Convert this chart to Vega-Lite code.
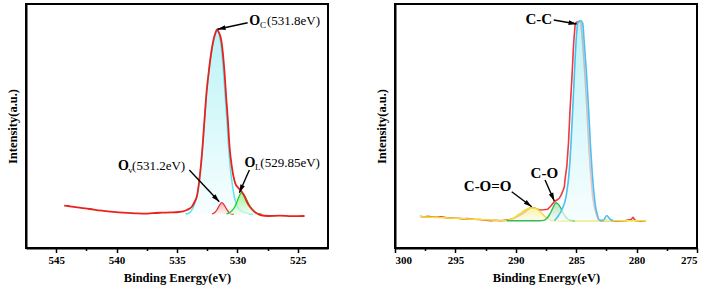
{
"$schema": "https://vega.github.io/schema/vega-lite/v6.json",
"background": "white",
"padding": {"left": 5, "top": 3, "right": 5, "bottom": 3},
"spacing": 67,
"bounds": "flush",
"config": {
  "font": "Liberation Serif",
  "view": {"stroke": "#000", "strokeWidth": 2},
  "axis": {"labelFont": "Liberation Serif", "labelFontWeight": "bold", "labelFontSize": 11, "labelColor": "#000", "titleFont": "Liberation Serif", "titleFontWeight": "bold", "titleFontSize": 12.5, "titleColor": "#000", "domainColor": "#000", "domainWidth": 2, "tickColor": "#000", "tickWidth": 1.5, "grid": false, "labelPadding": 2, "titlePadding": 6},
  "text": {"font": "Liberation Serif", "color": "#000"}
},
"datasets": {
  "L": [
    {"s":"raw","e":544.34,"v":42.3},{"s":"raw","e":544.0,"v":42.0},{"s":"raw","e":543.7,"v":41.3},{"s":"raw","e":543.2,"v":40.6},{"s":"raw","e":542.6,"v":39.7},{"s":"raw","e":541.9,"v":38.4},{"s":"raw","e":541.22,"v":37.3},{"s":"raw","e":540.5,"v":36.4},{"s":"raw","e":539.83,"v":35.7},{"s":"raw","e":539.1,"v":35.1},{"s":"raw","e":538.46,"v":34.7},{"s":"raw","e":537.63,"v":34.3},{"s":"raw","e":537.0,"v":34.9},{"s":"raw","e":536.25,"v":35.3},{"s":"raw","e":535.5,"v":35.6},{"s":"raw","e":534.87,"v":36},{"s":"raw","e":534.5,"v":36.6},{"s":"raw","e":534.18,"v":38},{"s":"raw","e":533.95,"v":39.5},{"s":"raw","e":533.77,"v":41.3},{"s":"raw","e":533.55,"v":46},{"s":"raw","e":533.35,"v":52},{"s":"raw","e":533.15,"v":68},{"s":"raw","e":533.0,"v":85},{"s":"raw","e":532.88,"v":102},{"s":"raw","e":532.72,"v":129},{"s":"raw","e":532.58,"v":152},{"s":"raw","e":532.38,"v":175},{"s":"raw","e":532.17,"v":195},{"s":"raw","e":531.97,"v":208.5},{"s":"raw","e":531.8,"v":215.5},{"s":"raw","e":531.68,"v":218.7},{"s":"raw","e":531.55,"v":216},{"s":"raw","e":531.34,"v":208},{"s":"raw","e":531.2,"v":194.7},{"s":"raw","e":531.06,"v":174.7},{"s":"raw","e":530.93,"v":151.3},{"s":"raw","e":530.79,"v":128},{"s":"raw","e":530.65,"v":101.3},{"s":"raw","e":530.46,"v":81.3},{"s":"raw","e":530.18,"v":64.7},{"s":"raw","e":529.95,"v":60.5},{"s":"raw","e":529.8,"v":58.5},{"s":"raw","e":529.65,"v":56.5},{"s":"raw","e":529.45,"v":52.5},{"s":"raw","e":529.25,"v":47},{"s":"raw","e":529.07,"v":43},{"s":"raw","e":528.8,"v":39},{"s":"raw","e":528.53,"v":35.7},{"s":"raw","e":528.3,"v":34},{"s":"raw","e":528.11,"v":33},{"s":"raw","e":527.42,"v":32},{"s":"raw","e":526.5,"v":32.3},{"s":"raw","e":525.5,"v":31.8},{"s":"raw","e":524.44,"v":32},
    {"s":"Oc","e":534.3,"v":34,"bg":34},{"s":"Oc","e":534.0,"v":35,"bg":34},{"s":"Oc","e":533.8,"v":37.5,"bg":34},{"s":"Oc","e":533.63,"v":41.3,"bg":34},{"s":"Oc","e":533.5,"v":45.5,"bg":34},{"s":"Oc","e":533.35,"v":51.3,"bg":34},{"s":"Oc","e":533.2,"v":62,"bg":34},{"s":"Oc","e":533.08,"v":74.7,"bg":34},{"s":"Oc","e":532.88,"v":101.3,"bg":34},{"s":"Oc","e":532.72,"v":128,"bg":34},{"s":"Oc","e":532.58,"v":151.3,"bg":34},{"s":"Oc","e":532.38,"v":174.7,"bg":34},{"s":"Oc","e":532.17,"v":194.7,"bg":34},{"s":"Oc","e":531.97,"v":208,"bg":34},{"s":"Oc","e":531.82,"v":215.5,"bg":34},{"s":"Oc","e":531.7,"v":218.7,"bg":34},{"s":"Oc","e":531.56,"v":216,"bg":34},{"s":"Oc","e":531.42,"v":208,"bg":34},{"s":"Oc","e":531.28,"v":194.7,"bg":34},{"s":"Oc","e":531.14,"v":174.7,"bg":34},{"s":"Oc","e":531.01,"v":151.3,"bg":34},{"s":"Oc","e":530.87,"v":128,"bg":34},{"s":"Oc","e":530.73,"v":101.3,"bg":34},{"s":"Oc","e":530.54,"v":74.7,"bg":34},{"s":"Oc","e":530.4,"v":62,"bg":34},{"s":"Oc","e":530.26,"v":51.3,"bg":34},{"s":"Oc","e":530.08,"v":44,"bg":34},{"s":"Oc","e":529.9,"v":39.7,"bg":34},{"s":"Oc","e":529.6,"v":36.5,"bg":34},{"s":"Oc","e":529.35,"v":35.3,"bg":34},{"s":"Oc","e":529.0,"v":34.3,"bg":34},{"s":"Oc","e":528.7,"v":34,"bg":34},
    {"s":"Ov","e":532.1,"v":34,"bg":34},{"s":"Ov","e":531.9,"v":35.2,"bg":34},{"s":"Ov","e":531.7,"v":38,"bg":34},{"s":"Ov","e":531.5,"v":42.3,"bg":34},{"s":"Ov","e":531.3,"v":45.3,"bg":34},{"s":"Ov","e":531.1,"v":43.2,"bg":34},{"s":"Ov","e":530.9,"v":39,"bg":34},{"s":"Ov","e":530.7,"v":35.5,"bg":34},{"s":"Ov","e":530.5,"v":34.2,"bg":34},{"s":"Ov","e":530.3,"v":34,"bg":34},
    {"s":"Ol","e":530.9,"v":34.2,"bg":34},{"s":"Ol","e":530.6,"v":35.8,"bg":34},{"s":"Ol","e":530.3,"v":39.5,"bg":34},{"s":"Ol","e":530.1,"v":44,"bg":34},{"s":"Ol","e":529.9,"v":50.5,"bg":34},{"s":"Ol","e":529.75,"v":54.3,"bg":34},{"s":"Ol","e":529.65,"v":55.3,"bg":34},{"s":"Ol","e":529.5,"v":54,"bg":34},{"s":"Ol","e":529.3,"v":50,"bg":34},{"s":"Ol","e":529.1,"v":45,"bg":34},{"s":"Ol","e":528.9,"v":40.5,"bg":34},{"s":"Ol","e":528.7,"v":37.2,"bg":34},{"s":"Ol","e":528.45,"v":35,"bg":34},{"s":"Ol","e":528.2,"v":34.2,"bg":34},{"s":"Ol","e":528.0,"v":34,"bg":34}
  ],
  "R": [
    {"s":"raw","e":297.93,"v":31.8},{"s":"raw","e":297.6,"v":31.0},{"s":"raw","e":297.3,"v":31.6},{"s":"raw","e":297.0,"v":31.2},{"s":"raw","e":296.6,"v":30.8},{"s":"raw","e":296.19,"v":31.3},{"s":"raw","e":295.8,"v":30.4},{"s":"raw","e":295.4,"v":30.1},{"s":"raw","e":295.0,"v":29.8},{"s":"raw","e":294.8,"v":29.7},{"s":"raw","e":294.4,"v":29.1},{"s":"raw","e":294.0,"v":29.4},{"s":"raw","e":293.44,"v":28.7},{"s":"raw","e":293.0,"v":28.5},{"s":"raw","e":292.5,"v":27.9},{"s":"raw","e":292.05,"v":27.3},{"s":"raw","e":291.7,"v":27.8},{"s":"raw","e":291.3,"v":27.2},{"s":"raw","e":290.95,"v":27.6},{"s":"raw","e":290.5,"v":28.4},{"s":"raw","e":290.12,"v":29.7},{"s":"raw","e":289.7,"v":32.5},{"s":"raw","e":289.3,"v":35.3},{"s":"raw","e":289.0,"v":38.5},{"s":"raw","e":288.74,"v":40.7},{"s":"raw","e":288.4,"v":39.8},{"s":"raw","e":288.05,"v":38},{"s":"raw","e":287.7,"v":38.3},{"s":"raw","e":287.36,"v":38.7},{"s":"raw","e":287.1,"v":42},{"s":"raw","e":286.81,"v":46.3},{"s":"raw","e":286.6,"v":48},{"s":"raw","e":286.4,"v":49.7},{"s":"raw","e":286.2,"v":54},{"s":"raw","e":285.98,"v":61.3},{"s":"raw","e":285.93,"v":68},{"s":"raw","e":285.78,"v":81.3},{"s":"raw","e":285.64,"v":104.7},{"s":"raw","e":285.51,"v":138},{"s":"raw","e":285.35,"v":171.3},{"s":"raw","e":285.21,"v":204.7},{"s":"raw","e":285.08,"v":224.7},{"s":"raw","e":284.88,"v":226.3},{"s":"raw","e":284.72,"v":226.5},{"s":"raw","e":284.6,"v":224.7},{"s":"raw","e":284.46,"v":204.7},{"s":"raw","e":284.27,"v":171.3},{"s":"raw","e":284.11,"v":138},{"s":"raw","e":283.97,"v":104.7},{"s":"raw","e":283.83,"v":78},{"s":"raw","e":283.64,"v":51.3},{"s":"raw","e":283.5,"v":41},{"s":"raw","e":283.36,"v":34.7},{"s":"raw","e":283.17,"v":28},{"s":"raw","e":282.95,"v":27},{"s":"raw","e":282.6,"v":27.6},{"s":"raw","e":282.12,"v":27.5},{"s":"raw","e":281.7,"v":26.8},{"s":"raw","e":281.29,"v":27},{"s":"raw","e":280.9,"v":27.4},{"s":"raw","e":280.46,"v":28.5},{"s":"raw","e":280.3,"v":30.5},{"s":"raw","e":280.1,"v":27.5},{"s":"raw","e":279.7,"v":26.9},{"s":"raw","e":279.25,"v":27.3},
    {"s":"CC","e":286.8,"v":27.3,"bg":27.3},{"s":"CC","e":286.53,"v":31.3,"bg":27.3},{"s":"CC","e":286.2,"v":38,"bg":27.3},{"s":"CC","e":285.84,"v":51.3,"bg":27.3},{"s":"CC","e":285.57,"v":78,"bg":27.3},{"s":"CC","e":285.43,"v":104.7,"bg":27.3},{"s":"CC","e":285.29,"v":138,"bg":27.3},{"s":"CC","e":285.16,"v":171.3,"bg":27.3},{"s":"CC","e":285.02,"v":204.7,"bg":27.3},{"s":"CC","e":284.88,"v":224.7,"bg":27.3},{"s":"CC","e":284.74,"v":227,"bg":27.3},{"s":"CC","e":284.6,"v":227.3,"bg":27.3},{"s":"CC","e":284.46,"v":224.7,"bg":27.3},{"s":"CC","e":284.33,"v":204.7,"bg":27.3},{"s":"CC","e":284.13,"v":171.3,"bg":27.3},{"s":"CC","e":283.97,"v":138,"bg":27.3},{"s":"CC","e":283.83,"v":104.7,"bg":27.3},{"s":"CC","e":283.69,"v":78,"bg":27.3},{"s":"CC","e":283.5,"v":51.3,"bg":27.3},{"s":"CC","e":283.35,"v":38,"bg":27.3},{"s":"CC","e":283.28,"v":34.7,"bg":27.3},{"s":"CC","e":283.09,"v":28,"bg":27.3},{"s":"CC","e":282.85,"v":27.6,"bg":27.3},{"s":"CC","e":282.7,"v":28.5,"bg":27.3},{"s":"CC","e":282.47,"v":32.5,"bg":27.3},{"s":"CC","e":282.28,"v":30,"bg":27.3},{"s":"CC","e":282.1,"v":28,"bg":27.3},{"s":"CC","e":281.93,"v":27.5,"bg":27.3},
    {"s":"COO","e":297.93,"v":31.2,"bg":31.2},{"s":"COO","e":296.5,"v":30.6,"bg":30.6},{"s":"COO","e":295.0,"v":29.8,"bg":29.8},{"s":"COO","e":293.5,"v":28.8,"bg":28.8},{"s":"COO","e":292.0,"v":28.0,"bg":28.0},{"s":"COO","e":290.8,"v":27.5,"bg":27.5},{"s":"COO","e":290.5,"v":28.3,"bg":27.4},{"s":"COO","e":290.2,"v":30,"bg":27.4},{"s":"COO","e":289.9,"v":32.4,"bg":27.4},{"s":"COO","e":289.6,"v":35,"bg":27.4},{"s":"COO","e":289.3,"v":37.5,"bg":27.4},{"s":"COO","e":289.0,"v":39.3,"bg":27.3},{"s":"COO","e":288.7,"v":40.3,"bg":27.3},{"s":"COO","e":288.4,"v":39.7,"bg":27.3},{"s":"COO","e":288.1,"v":37.6,"bg":27.3},{"s":"COO","e":287.8,"v":34,"bg":27.3},{"s":"COO","e":287.5,"v":30.5,"bg":27.3},{"s":"COO","e":287.2,"v":28.2,"bg":27.3},{"s":"COO","e":286.9,"v":27.4,"bg":27.3},{"s":"COO","e":285.0,"v":27.3,"bg":27.3},{"s":"COO","e":283.0,"v":27.3,"bg":27.3},{"s":"COO","e":281.0,"v":27.2,"bg":27.2},{"s":"COO","e":279.25,"v":27.2,"bg":27.2},
    {"s":"CO","e":290.75,"v":27.3,"bg":27.3},{"s":"CO","e":288.0,"v":27.3,"bg":27.3},{"s":"CO","e":287.7,"v":27.6,"bg":27.3},{"s":"CO","e":287.45,"v":29.5,"bg":27.3},{"s":"CO","e":287.25,"v":32.5,"bg":27.3},{"s":"CO","e":287.05,"v":37,"bg":27.3},{"s":"CO","e":286.88,"v":41.5,"bg":27.3},{"s":"CO","e":286.75,"v":44.3,"bg":27.3},{"s":"CO","e":286.67,"v":45.3,"bg":27.3},{"s":"CO","e":286.5,"v":44,"bg":27.3},{"s":"CO","e":286.3,"v":40.5,"bg":27.3},{"s":"CO","e":286.1,"v":35.5,"bg":27.3},{"s":"CO","e":285.9,"v":31.5,"bg":27.3},{"s":"CO","e":285.7,"v":29,"bg":27.3},{"s":"CO","e":285.45,"v":27.8,"bg":27.3},{"s":"CO","e":285.1,"v":27.3,"bg":27.3}
  ],
  "arrows": [
    {"p":"L","e":531.65,"v":218.7,"e2":529.15,"v2":225.3},
    {"p":"L","e":531.5,"v":46.3,"e2":533.98,"v2":78},
    {"p":"L","e":529.84,"v":55.3,"e2":529.01,"v2":78},
    {"p":"R","e":284.96,"v":224,"e2":286.86,"v2":228},
    {"p":"R","e":286.81,"v":47,"e2":287.58,"v2":68},
    {"p":"R","e":288.68,"v":41.3,"e2":290.34,"v2":56.3}
  ],
  "ann": [
    {"p":"L","k":"b","e":529.01,"v":227.3,"t":"O"},{"p":"L","k":"s","e":528.12,"v":223.3,"t":"C"},{"p":"L","k":"t","e":527.55,"v":227.3,"t":"(531.8eV)"},
    {"p":"L","k":"b","e":539.88,"v":82.3,"t":"O"},{"p":"L","k":"s","e":539.03,"v":78.3,"t":"v"},{"p":"L","k":"t","e":538.72,"v":82.3,"t":"(531.2eV)"},
    {"p":"L","k":"b","e":529.41,"v":84.7,"t":"O"},{"p":"L","k":"s","e":528.55,"v":80.7,"t":"L"},{"p":"L","k":"t","e":528.1,"v":84.7,"t":"(529.85eV)"},
    {"p":"R","k":"c","e":288.1,"v":228.7,"t":"C-C"},
    {"p":"R","k":"c","e":287.64,"v":75.3,"t":"C-O"},
    {"p":"R","k":"c","e":292.33,"v":62.3,"t":"C-O=O"}
  ]
},
"hconcat": [
  {
    "width": 302, "height": 244,
    "encoding": {
      "x": {"field": "e", "type": "quantitative", "title": "Binding Energy(eV)", "scale": {"domain": [522.5, 547.5], "reverse": true, "nice": false, "zero": false},
        "axis": {"values": [525, 527.5, 530, 532.5, 535, 537.5, 540, 542.5, 545], "labelExpr": "datum.value % 5 === 0 ? datum.label : ''", "tickSize": {"condition": {"test": "datum.value % 5 !== 0", "value": 2.5}, "value": 4.5}}},
      "y": {"field": "v", "type": "quantitative", "title": "Intensity(a.u.)", "scale": {"domain": [0, 244], "nice": false, "zero": false},
        "axis": {"labels": false, "ticks": false, "titlePadding": 7}}
    },
    "layer": [
      {"data": {"name": "L"}, "transform": [{"filter": "datum.s === 'Oc'"}],
       "mark": {"type": "area", "interpolate": "monotone", "fill": {"gradient": "linear", "x1": 0, "y1": 0, "x2": 0, "y2": 1, "stops": [{"offset": 0, "color": "#9deff4"}, {"offset": 1, "color": "#f4fdfe"}]}, "line": {"color": "#62e2ea", "strokeWidth": 1.5}},
       "encoding": {"y2": {"field": "bg"}}},
      {"data": {"name": "L"}, "transform": [{"filter": "datum.s === 'Ov'"}],
       "mark": {"type": "area", "interpolate": "monotone", "fill": {"gradient": "linear", "x1": 0, "y1": 0, "x2": 0, "y2": 1, "stops": [{"offset": 0, "color": "#f59a9a"}, {"offset": 1, "color": "#fdf0f0"}]}, "line": {"color": "#e83232", "strokeWidth": 1.3}},
       "encoding": {"y2": {"field": "bg"}}},
      {"data": {"name": "L"}, "transform": [{"filter": "datum.s === 'Ol'"}],
       "mark": {"type": "area", "interpolate": "monotone", "fill": {"gradient": "linear", "x1": 0, "y1": 0, "x2": 0, "y2": 1, "stops": [{"offset": 0, "color": "#6ff06f"}, {"offset": 1, "color": "#effdef"}]}, "line": {"color": "#22cc22", "strokeWidth": 1.3}},
       "encoding": {"y2": {"field": "bg"}}},
      {"data": {"name": "L"}, "transform": [{"filter": "datum.s === 'raw'"}],
       "mark": {"type": "line", "interpolate": "monotone", "color": "#e8231f", "strokeWidth": 1.8}},
      {"data": {"name": "arrows"}, "transform": [{"filter": "datum.p === 'L'"}],
       "mark": {"type": "rule", "color": "#000", "strokeWidth": 1.4},
       "encoding": {"x2": {"field": "e2"}, "y2": {"field": "v2"}}},
      {"data": {"name": "arrows"}, "transform": [{"filter": "datum.p === 'L'"}, {"calculate": "atan2(-(datum.e - datum.e2) * 12.08, datum.v - datum.v2) * 180 / PI", "as": "ang"}],
       "mark": {"type": "point", "filled": true, "color": "#000", "opacity": 1, "shape": "M0,0L0.8,2.7L-0.8,2.7Z", "size": 36},
       "encoding": {"angle": {"field": "ang", "type": "quantitative", "scale": null}}},
      {"data": {"name": "ann"}, "transform": [{"filter": "datum.p === 'L' && datum.k === 'b'"}],
       "mark": {"type": "text", "font": "Liberation Serif", "fontWeight": "bold", "fontSize": 14, "align": "left", "baseline": "middle"},
       "encoding": {"text": {"field": "t"}}},
      {"data": {"name": "ann"}, "transform": [{"filter": "datum.p === 'L' && datum.k === 's'"}],
       "mark": {"type": "text", "font": "Liberation Serif", "fontSize": 9, "align": "left", "baseline": "middle"},
       "encoding": {"text": {"field": "t"}}},
      {"data": {"name": "ann"}, "transform": [{"filter": "datum.p === 'L' && datum.k === 't'"}],
       "mark": {"type": "text", "font": "Liberation Serif", "fontSize": 13, "align": "left", "baseline": "middle"},
       "encoding": {"text": {"field": "t"}}}
    ]
  },
  {
    "width": 302, "height": 244,
    "encoding": {
      "x": {"field": "e", "type": "quantitative", "title": "Binding Energy(eV)", "scale": {"domain": [275, 300], "reverse": true, "nice": false, "zero": false},
        "axis": {"values": [275, 277.5, 280, 282.5, 285, 287.5, 290, 292.5, 295, 297.5, 300], "labelExpr": "datum.value % 5 === 0 ? datum.label : ''", "tickSize": {"condition": {"test": "datum.value % 5 !== 0", "value": 2.5}, "value": 4.5}}},
      "y": {"field": "v", "type": "quantitative", "title": "Intensity(a.u.)", "scale": {"domain": [0, 244], "nice": false, "zero": false},
        "axis": {"labels": false, "ticks": false, "titlePadding": 7}}
    },
    "layer": [
      {"data": {"name": "R"}, "transform": [{"filter": "datum.s === 'raw'"}],
       "mark": {"type": "line", "interpolate": "linear", "color": "#ee3b3b", "strokeWidth": 1.6}},
      {"data": {"name": "R"}, "transform": [{"filter": "datum.s === 'COO'"}],
       "mark": {"type": "area", "interpolate": "monotone", "fill": {"gradient": "linear", "x1": 0, "y1": 0, "x2": 0, "y2": 1, "stops": [{"offset": 0, "color": "#f3ee8a"}, {"offset": 1, "color": "#fdfce8"}]}, "line": {"color": "#ece23a", "strokeWidth": 1.5}},
       "encoding": {"y2": {"field": "bg"}}},
      {"data": {"name": "R"}, "transform": [{"filter": "datum.s === 'CO'"}],
       "mark": {"type": "area", "interpolate": "monotone", "fill": {"gradient": "linear", "x1": 0, "y1": 0, "x2": 0, "y2": 1, "stops": [{"offset": 0, "color": "#8fdca0"}, {"offset": 1, "color": "#f0fbf2"}]}, "line": {"color": "#33bb55", "strokeWidth": 1.4}},
       "encoding": {"y2": {"field": "bg"}}},
      {"data": {"name": "R"}, "transform": [{"filter": "datum.s === 'CC'"}],
       "mark": {"type": "area", "interpolate": "monotone", "fill": {"gradient": "linear", "x1": 0, "y1": 0, "x2": 0, "y2": 1, "stops": [{"offset": 0, "color": "#a3eef6"}, {"offset": 1, "color": "#f4fdfe"}]}, "line": {"color": "#4cc0f0", "strokeWidth": 1.6}},
       "encoding": {"y2": {"field": "bg"}}},
      {"data": {"name": "arrows"}, "transform": [{"filter": "datum.p === 'R'"}],
       "mark": {"type": "rule", "color": "#000", "strokeWidth": 1.4},
       "encoding": {"x2": {"field": "e2"}, "y2": {"field": "v2"}}},
      {"data": {"name": "arrows"}, "transform": [{"filter": "datum.p === 'R'"}, {"calculate": "atan2(-(datum.e - datum.e2) * 12.08, datum.v - datum.v2) * 180 / PI", "as": "ang"}],
       "mark": {"type": "point", "filled": true, "color": "#000", "opacity": 1, "shape": "M0,0L0.8,2.7L-0.8,2.7Z", "size": 36},
       "encoding": {"angle": {"field": "ang", "type": "quantitative", "scale": null}}},
      {"data": {"name": "ann"}, "transform": [{"filter": "datum.p === 'R'"}],
       "mark": {"type": "text", "font": "Liberation Serif", "fontWeight": "bold", "fontSize": 15, "align": "center", "baseline": "middle"},
       "encoding": {"text": {"field": "t"}}}
    ]
  }
]
}
